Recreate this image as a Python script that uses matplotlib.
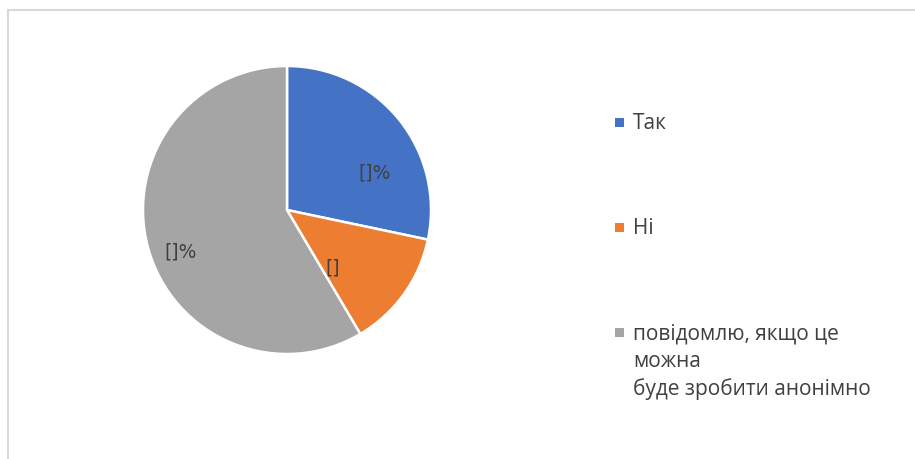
import matplotlib.pyplot as plt
from matplotlib.lines import Line2D
from matplotlib.patches import Rectangle

plt.rcParams['font.family'] = ['Open Sans', 'DejaVu Sans']

categories = ['Так', 'Ні', 'повідомлю, якщо це\nможна\nбуде зробити анонімно']
values = [28.3, 13.2, 58.5]
slice_labels = ['[]%', '[]', '[]%']
colors = ['#4472C4', '#ED7D31', '#A5A5A5']
label_pos = [(0.61, 0.26), (0.32, -0.40), (-0.74, -0.29)]

W, H = 915, 459
fig = plt.figure(figsize=(W / 100, H / 100), dpi=100)

# рамка диаграммы (обрезана справа и снизу)
fig.add_artist(Line2D([8 / W, 1], [1 - 10 / H, 1 - 10 / H], color='#D9D9D9', lw=1.5))
fig.add_artist(Line2D([8 / W, 8 / W], [0, 1 - 10 / H], color='#D9D9D9', lw=1.5))

ax = fig.add_axes([143 / W, 105 / H, 288 / W, 288 / H])
wedges, _ = ax.pie(values, colors=colors, startangle=90, counterclock=False, radius=1,
                   wedgeprops=dict(edgecolor='white', linewidth=1.8))
ax.set_xlim(-1, 1)
ax.set_ylim(-1, 1)
ax.set_aspect('equal')

for (x, y), t in zip(label_pos, slice_labels):
    ax.text(x, y, t, ha='center', va='center', fontsize=13.5, color='#404040',
            family='DejaVu Sans')

# легенда вручную
leg_y = [129, 234, 339]
for c, lab, y in zip(colors, categories, leg_y):
    fig.add_artist(Rectangle((615 / W, 1 - (y - 2) / H), 9 / W, 9 / H,
                             transform=fig.transFigure, facecolor=c, edgecolor='none'))
    for i, line in enumerate(lab.split('\n')):
        fig.text(633 / W, 1 - (y + 28 * i) / H, line, ha='left', va='baseline',
                 fontsize=15, color='#404040')

fig.savefig('out.png', dpi=100)
